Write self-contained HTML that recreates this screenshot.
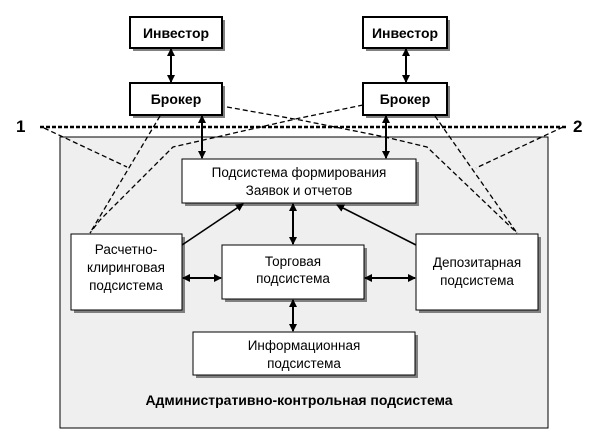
<!DOCTYPE html>
<html><head><meta charset="utf-8"><style>
html,body{margin:0;padding:0;background:#fff;width:605px;height:438px;overflow:hidden}
svg{display:block}
text{font-family:"Liberation Sans",Arial,sans-serif;fill:#000}
</style></head><body>
<svg width="605" height="438" viewBox="0 0 605 438" xmlns="http://www.w3.org/2000/svg">
<defs>
<marker id="a" markerWidth="8" markerHeight="8" refX="7" refY="4" orient="auto-start-reverse" markerUnits="userSpaceOnUse">
<path d="M0,0 L8,4 L0,8 z" fill="#000"/></marker>
</defs>
<rect x="60" y="137" width="488" height="291" fill="#efefef" stroke="#000" stroke-width="1"/>

<g fill="#808080">
<rect x="133" y="20" width="92" height="31"/><rect x="133" y="86" width="92" height="32"/>
<rect x="366" y="20" width="84" height="31"/><rect x="366" y="86" width="84" height="32"/>
<rect x="185" y="162" width="234" height="44"/>
<rect x="74" y="237" width="111" height="76"/>
<rect x="225" y="248" width="142" height="54"/>
<rect x="419" y="237" width="122" height="76"/>
<rect x="196" y="335" width="222" height="43"/>
</g>
<g fill="#fff" stroke="#000">
<rect x="130" y="17" width="92" height="31" stroke-width="2"/>
<rect x="130" y="83" width="92" height="32" stroke-width="2"/>
<rect x="363" y="17" width="84" height="31" stroke-width="2"/>
<rect x="363" y="83" width="84" height="32" stroke-width="2"/>
<rect x="182" y="159" width="234" height="44"/>
<rect x="71" y="234" width="111" height="76"/>
<rect x="222" y="245" width="142" height="54"/>
<rect x="416" y="234" width="122" height="76"/>
<rect x="193" y="332" width="222" height="43"/>
</g>

<g fill="none" stroke="#000" stroke-dasharray="5,3" stroke-width="1.3">
<line x1="40" y1="127" x2="567" y2="127" stroke-width="2.5" stroke-dasharray="4,2"/>
<polyline points="44,128 127,167"/>
<polyline points="563,127 476,168"/>
<polyline points="160,116 90,233"/>
<polyline points="227,107 300,120 385,137 427,147 517,233"/>
<polyline points="363,105 300,118 173,147 100,220 90,233"/>
<polyline points="435,116 517,233"/>
</g>

<g stroke="#000" stroke-width="2" marker-start="url(#a)" marker-end="url(#a)">
<line x1="171" y1="49" x2="171" y2="82"/>
<line x1="406" y1="49" x2="406" y2="82"/>
<line x1="202" y1="116" x2="202" y2="158"/>
<line x1="386" y1="116" x2="386" y2="158"/>
<line x1="293" y1="204" x2="293" y2="244"/>
<line x1="293" y1="300" x2="293" y2="331"/>
<line x1="183" y1="278" x2="221" y2="278"/>
<line x1="365" y1="278" x2="415" y2="278"/>
</g>
<g stroke="#000" stroke-width="1.6">
<line x1="182" y1="245" x2="243" y2="204" marker-end="url(#a)"/>
<line x1="416" y1="245" x2="337" y2="205" marker-end="url(#a)"/>
</g>

<g font-size="13.5" text-anchor="middle">
<text x="176" y="38" font-weight="bold" font-size="14">Инвестор</text>
<text x="176" y="104" font-weight="bold" font-size="14">Брокер</text>
<text x="405" y="38" font-weight="bold" font-size="14">Инвестор</text>
<text x="405" y="104" font-weight="bold" font-size="14">Брокер</text>
<text x="299" y="177">Подсистема формирования</text>
<text x="299" y="195">Заявок и отчетов</text>
<text x="126" y="254">Расчетно-</text>
<text x="126" y="272">клиринговая</text>
<text x="126" y="290">подсистема</text>
<text x="293" y="266">Торговая</text>
<text x="293" y="283">подсистема</text>
<text x="477" y="267">Депозитарная</text>
<text x="477" y="285">подсистема</text>
<text x="304" y="350">Информационная</text>
<text x="304" y="368">подсистема</text>
<text x="299" y="405" font-weight="bold" font-size="14">Административно-контрольная подсистема</text>
</g>
<text x="16" y="132" font-size="17" font-weight="bold">1</text>
<text x="573" y="132" font-size="17" font-weight="bold">2</text>
</svg>
</body></html>
